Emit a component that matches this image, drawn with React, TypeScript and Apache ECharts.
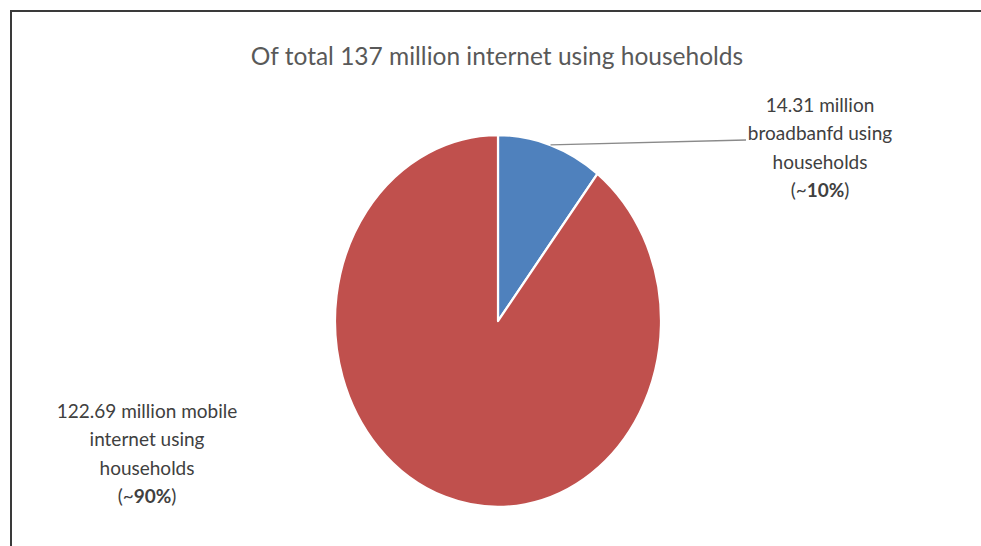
import React, { useEffect, useRef } from "react";
import * as echarts from "echarts";

const TITLE = "Of total 137 million internet using households";
const categories = ["Broadband", "Mobile internet"];
const valuesMillions = [14.31, 122.69];
const labelTemplates = [
  ["{v} million", "broadbanfd using", "households"],
  ["{v} million mobile", "internet using", "households"],
];
const sliceColors = ["#4F81BD", "#C0504D"];

const W = 981;
const H = 546;
const CX = 498;
const CY = 321;
const R = 163;
const STRETCH = 1.141;

export default function App() {
  const pieRef = useRef<HTMLDivElement>(null);
  const textRef = useRef<HTMLDivElement>(null);

  useEffect(() => {
    const pie = echarts.init(pieRef.current!, null, { renderer: "svg" });
    pie.setOption({
      animation: false,
      series: [
        {
          type: "pie",
          center: [CX, CY],
          radius: R,
          startAngle: 90,
          clockwise: true,
          silent: true,
          label: { show: false },
          labelLine: { show: false },
          itemStyle: { borderColor: "#ffffff", borderWidth: 2.2 },
          data: categories.map((c, i) => ({
            name: c,
            value: valuesMillions[i],
            itemStyle: { color: sliceColors[i] },
          })),
        },
      ],
    });

    const total = valuesMillions.reduce((a, b) => a + b, 0);
    // mid-angle of first slice (clockwise from 12 o'clock)
    const mid = ((valuesMillions[0] / total) * Math.PI * 2) / 2;
    const lx = CX + R * Math.sin(mid);
    const ly = CY - R * STRETCH * Math.cos(mid);

    const mkLabel = (i: number) => {
      const pct = Math.round((valuesMillions[i] / total) * 100);
      const lines = labelTemplates[i].map((l) => `{n|${l.replace("{v}", String(valuesMillions[i]))}}`);
      return lines.join("\n") + `\n{n|(~}{b|${pct}%}{n|)}`;
    };
    const rich = {
      n: { fontSize: 19, fontFamily: "Lato", fill: "#404040", lineHeight: 28.5, align: "center" },
      b: { fontSize: 19, fontFamily: "Lato", fontWeight: "bold", fill: "#404040", lineHeight: 28.5, align: "center" },
    };

    const txt = echarts.init(textRef.current!, null, { renderer: "svg" });
    txt.setOption({
      animation: false,
      graphic: [
        { type: "line", shape: { x1: 10, y1: 11, x2: W, y2: 11 }, style: { stroke: "#3a3a3a", lineWidth: 2 } },
        { type: "line", shape: { x1: 11, y1: 10, x2: 11, y2: H }, style: { stroke: "#3a3a3a", lineWidth: 2 } },
        {
          type: "text",
          x: 497,
          y: 55,
          style: {
            text: TITLE,
            fontSize: 24.5,
            fontFamily: "Lato",
            fill: "#595959",
            align: "center",
            verticalAlign: "middle",
          },
        },
        {
          type: "line",
          shape: { x1: lx, y1: ly, x2: 746, y2: 140 },
          style: { stroke: "#8a8a8a", lineWidth: 1.3 },
        },
        {
          type: "text",
          x: 820,
          y: 147,
          style: { text: mkLabel(0), rich, align: "center", verticalAlign: "middle" },
        },
        {
          type: "text",
          x: 147,
          y: 453,
          style: { text: mkLabel(1), rich, align: "center", verticalAlign: "middle" },
        },
      ],
    });

    return () => {
      pie.dispose();
      txt.dispose();
    };
  }, []);

  return (
    <div style={{ position: "fixed", left: 0, top: 0, width: W, height: H, background: "#ffffff", overflow: "hidden" }}>
      <div
        ref={pieRef}
        style={{
          position: "absolute",
          left: 0,
          top: 0,
          width: W,
          height: H,
          transform: `scaleY(${STRETCH})`,
          transformOrigin: `${CX}px ${CY}px`,
        }}
      />
      <div ref={textRef} style={{ position: "absolute", left: 0, top: 0, width: W, height: H }} />
    </div>
  );
}
